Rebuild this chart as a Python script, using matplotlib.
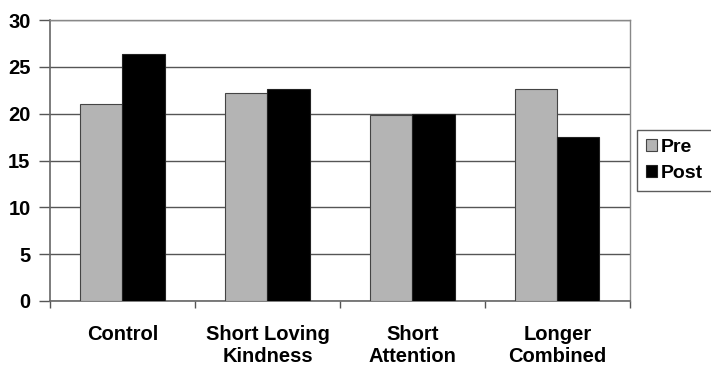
import numpy as np
import matplotlib.pyplot as plt

categories = ["Control", "Short Loving\nKindness", "Short\nAttention", "Longer\nCombined"]
pre = [21.0, 22.2, 19.9, 22.6]
post = [26.4, 22.6, 20.0, 17.5]
yticks = [0, 5, 10, 15, 20, 25, 30]

plt.rcParams['font.family'] = ['Liberation Sans', 'DejaVu Sans']
plt.rcParams['font.weight'] = 'bold'

fig = plt.figure(figsize=(7.11, 3.66), dpi=100)
ax = fig.add_axes([0.0703, 0.1776, 0.8157, 0.7674])

x = np.arange(len(categories))
w = 0.29
ax.bar(x - w / 2, pre, w, color='#b4b4b4', edgecolor='#444444', linewidth=0.8, label='Pre', zorder=3)
ax.bar(x + w / 2, post, w, color='black', edgecolor='#222222', linewidth=0.8, label='Post', zorder=3)

ax.set_xlim(-0.5, len(categories) - 0.5)
ax.set_ylim(0, 30)
ax.set_yticks(yticks)
ax.set_yticklabels([str(t) for t in yticks], fontsize=14.5, fontweight='bold')
ax.yaxis.grid(True, color='#555555', linewidth=1.0, zorder=0)
ax.tick_params(axis='y', length=8, width=1.0, color='#555555', pad=6)

# category labels centered, tick marks at category boundaries
ax.set_xticks(x)
ax.set_xticklabels(categories, fontsize=14.5, fontweight='bold', linespacing=1.2)
ax.tick_params(axis='x', which='major', length=0, pad=17)
ax.set_xticks(np.arange(-0.5, len(categories)), minor=True)
ax.tick_params(axis='x', which='minor', length=5, width=1.0, color='#555555')

for side in ['left', 'bottom']:
    ax.spines[side].set_color('#666666')
    ax.spines[side].set_linewidth(1.2)
for side in ['top', 'right']:
    ax.spines[side].set_color('#888888')
    ax.spines[side].set_linewidth(1.0)

leg = ax.legend(loc='center left', bbox_to_anchor=(1.013, 0.50), fontsize=14,
                frameon=True, fancybox=False, handlelength=0.55, handleheight=0.55,
                handletextpad=0.2, borderpad=0.45, borderaxespad=0.0, labelspacing=0.45)
leg.get_frame().set_edgecolor('#333333')
leg.get_frame().set_linewidth(1.0)
for t in leg.get_texts():
    t.set_fontweight('bold')

fig.savefig('out.png', dpi=100)
